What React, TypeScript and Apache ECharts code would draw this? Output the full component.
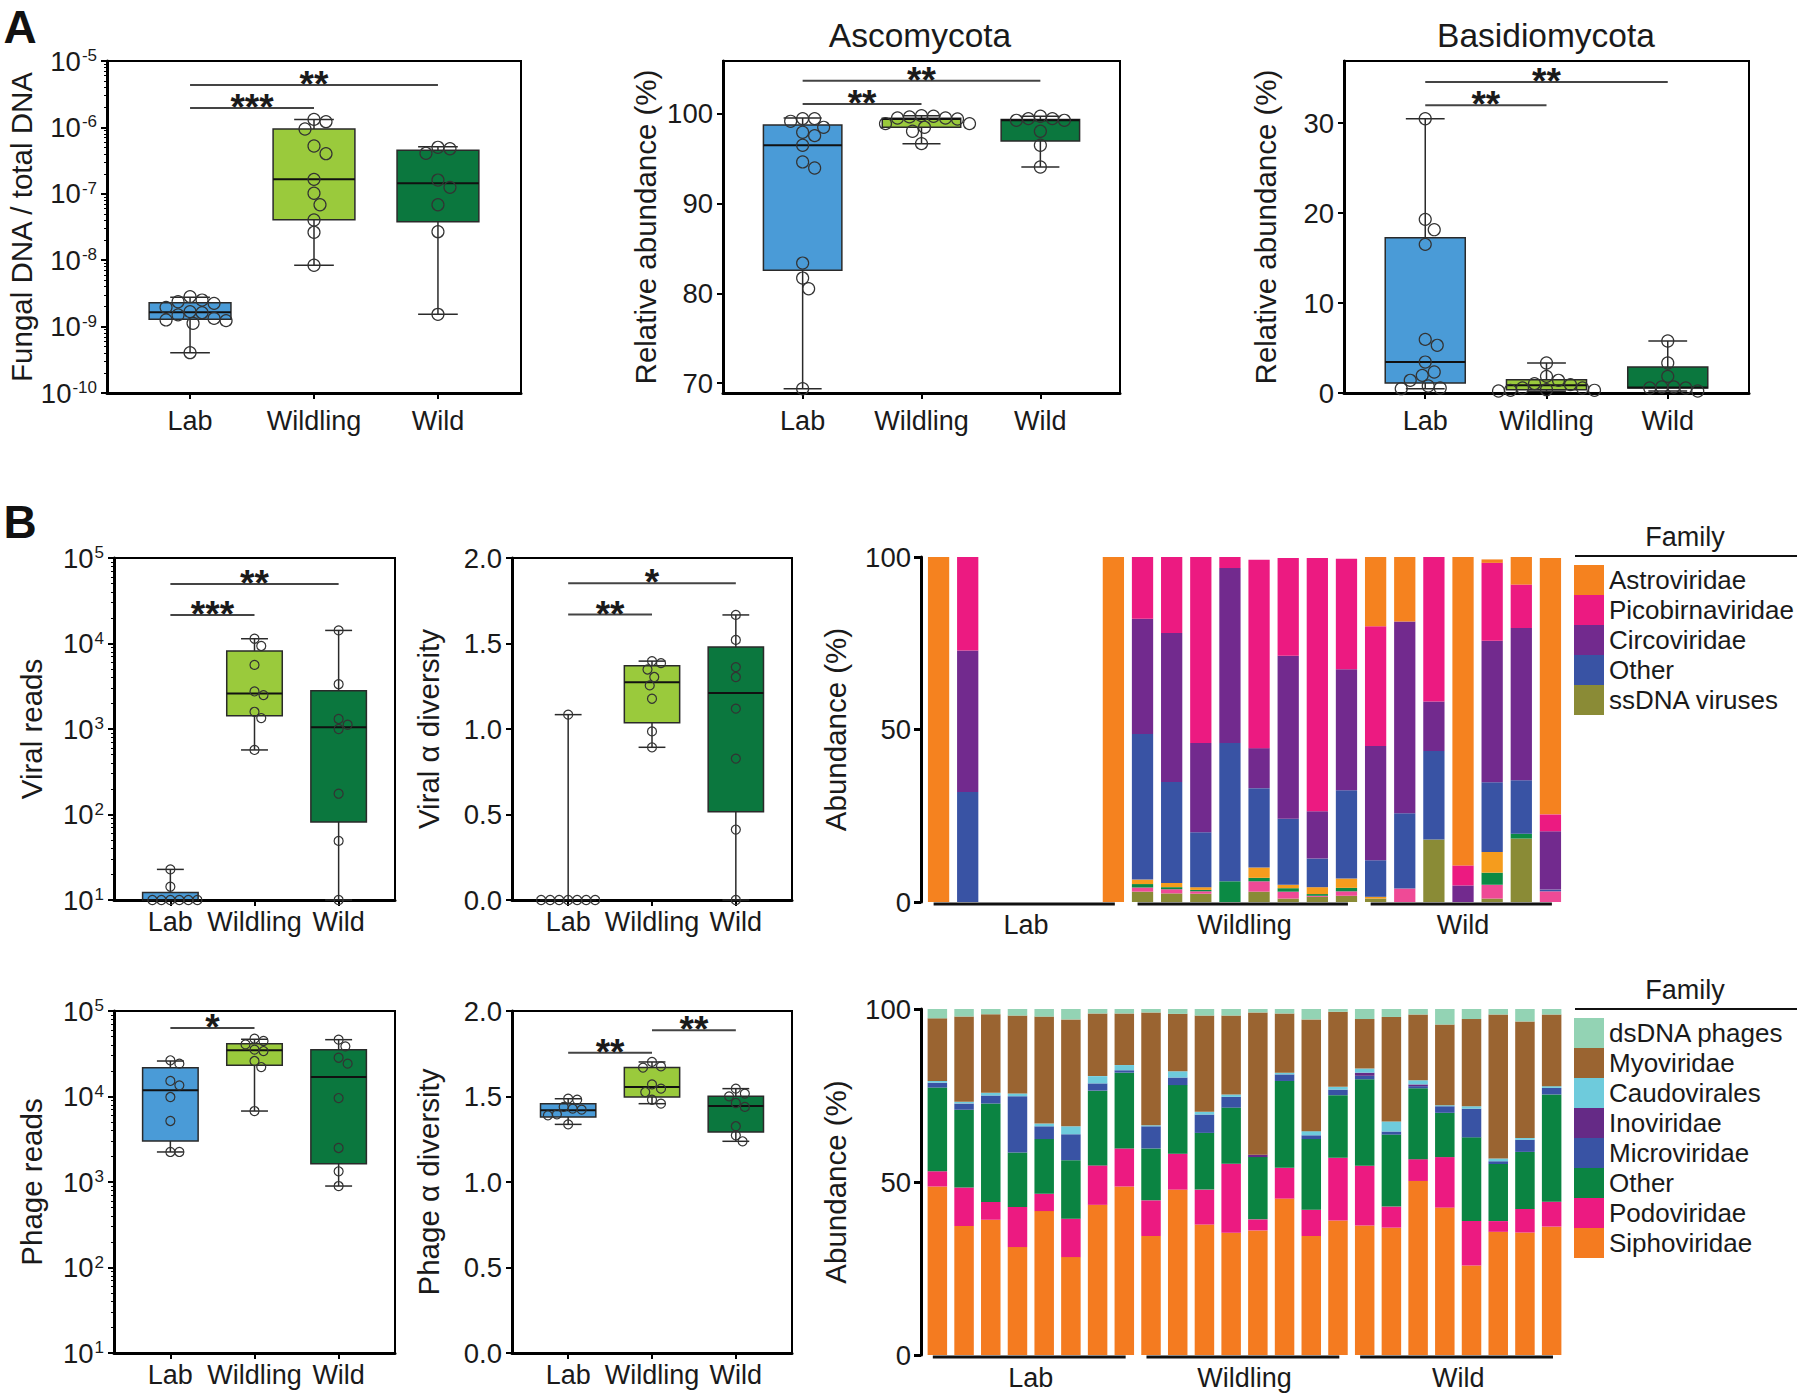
import React, { useEffect, useRef } from 'react';
import * as echarts from 'echarts';

const FONT = '"Liberation Sans", Arial, Helvetica, sans-serif';
const INK = '#1a1a1a';

// ---------- shared categories ----------
const GROUPS = ['Lab', 'Wildling', 'Wild'];
const GROUP_COLORS = ['#4a9bd7', '#9aca3c', '#0b773e'];

// ---------- Panel A: fungal DNA / total DNA (log) ----------
// box = [lower whisker, Q1, median, Q3, upper whisker]
const fungalBoxes = [
  [4.05e-10, 1.29e-9, 1.64e-9, 2.29e-9, 2.76e-9],
  [8.4e-9, 4.07e-8, 1.65e-7, 9.46e-7, 1.31e-6],
  [1.53e-9, 3.8e-8, 1.44e-7, 4.52e-7, 5.13e-7],
];
const fungalLab = [2.83e-9, 2.24e-9, 2.37e-9, 1.95e-9, 2.51e-9, 1.23e-9, 1.5e-9, 1.68e-9, 1.26e-9, 1.33e-9, 1.62e-9, 1.12e-9, 4.05e-10];
const fungalWildling = [1.32e-6, 1.22e-6, 9.46e-7, 5.25e-7, 4.02e-7, 1.65e-7, 1.02e-7, 6.85e-8, 4.03e-8, 2.63e-8, 8.4e-9];
const fungalWild = [4.07e-7, 5.01e-7, 4.77e-7, 1.25e-7, 1.61e-7, 6.85e-8, 2.69e-8, 1.53e-9];
const fungalBrackets: [number, number, number, string][] = [[0, 1, 1.96e-6, '***'], [0, 2, 4.36e-6, '**']];

// ---------- Panel A: Ascomycota ----------
const ascoTicks = [70, 80, 90, 100];
const ascoBoxes = [
  [69.37, 82.57, 96.5, 98.77, 99.55],
  [96.69, 98.51, 99.44, 99.52, 99.81],
  [94.09, 96.99, 99.3, 99.37, 99.74],
];
const ascoLab = [99.48, 99.48, 99.18, 98.51, 97.58, 97.96, 96.51, 94.65, 93.98, 83.38, 81.71, 80.52, 69.37];
const ascoWildling = [99.81, 99.67, 99.55, 99.55, 99.74, 98.92, 98.92, 98.07, 98.51, 96.69, 99.44];
const ascoWild = [99.29, 99.74, 99.48, 99.48, 99.29, 98.07, 96.51, 94.09];
const ascoBrackets: [number, number, number, string][] = [[0, 1, 101.1, '**'], [0, 2, 103.7, '**']];

// ---------- Panel A: Basidiomycota ----------
const basidioTicks = [0, 10, 20, 30];
const basidioBoxes = [
  [0.48, 1.11, 3.44, 17.26, 30.48],
  [0.2, 0.37, 0.85, 1.48, 3.33],
  [0.22, 0.56, 0.6, 2.89, 5.78],
];
const basidioLab = [30.48, 19.3, 18.15, 16.52, 5.96, 5.3, 3.44, 1.96, 2.33, 1.41, 0.48, 0.78, 0.56];
const basidioWildling = [3.33, 1.04, 1.85, 1.41, 0.93, 0.56, 0.56, 0.3, 0.22, 0.3, 0.37];
const basidioWild = [5.78, 3.33, 1.85, 0.56, 0.67, 0.56, 0.67, 0.22];
const basidioBrackets: [number, number, number, string][] = [[0, 1, 31.97, '**'], [0, 2, 34.56, '**']];

// ---------- Panel B: viral reads (log) ----------
const viralReadsBoxes = [
  [10, 10, 10, 12.2, 22.8],
  [569, 1429, 2606, 8180, 11370],
  [10, 81.8, 1045, 2800, 14220],
];
const viralReadsLab = [22.8, 14.3, 10, 10, 10, 10, 10, 10];
const viralReadsWildling = [11370, 9350, 5620, 2750, 2490, 1590, 1343, 569];
const viralReadsWild = [14220, 3340, 1310, 1122, 1000, 175, 49.1, 10];
const viralReadsBrackets: [number, number, number, string][] = [[0, 1, 21500, '***'], [0, 2, 49800, '**']];

// ---------- Panel B: viral alpha diversity ----------
const diversityTicks = [0, 0.5, 1, 1.5, 2];
const viralDivBoxes = [
  [0, 0, 0, 0, 1.084],
  [0.893, 1.037, 1.274, 1.37, 1.397],
  [0, 0.516, 1.21, 1.479, 1.667],
];
const viralDivLab = [1.084, 0, 0, 0, 0, 0, 0, 0];
const viralDivWildling = [1.385, 1.397, 1.348, 1.304, 1.255, 1.177, 0.986, 0.893];
const viralDivWild = [1.667, 1.521, 1.362, 1.304, 1.119, 0.827, 0.412, 0];
const viralDivBrackets: [number, number, number, string][] = [[0, 1, 1.669, '**'], [0, 2, 1.852, '*']];

// ---------- Panel B: phage reads (log) ----------
const phageReadsBoxes = [
  [2245, 3020, 11800, 21700, 26000],
  [6760, 23200, 34700, 41500, 46700],
  [897, 1637, 16900, 35300, 46200],
];
const phageReadsLab = [24200, 26500, 15200, 13500, 9860, 5170, 2245, 2245];
const phageReadsWildling = [47400, 40700, 44600, 34000, 35300, 26000, 22100, 6760];
const phageReadsWild = [46200, 38600, 28400, 24200, 9590, 2500, 1334, 897];
const phageReadsBrackets: [number, number, number, string][] = [[0, 1, 63200, '*']];

// ---------- Panel B: phage alpha diversity ----------
const phageDivBoxes = [
  [1.337, 1.38, 1.419, 1.458, 1.487],
  [1.458, 1.497, 1.556, 1.669, 1.702],
  [1.238, 1.292, 1.444, 1.501, 1.546],
];
const phageDivLab = [1.481, 1.487, 1.429, 1.423, 1.439, 1.39, 1.396, 1.337];
const phageDivWildling = [1.702, 1.669, 1.676, 1.571, 1.546, 1.526, 1.481, 1.458];
const phageDivWild = [1.546, 1.501, 1.462, 1.439, 1.326, 1.273, 1.238, 1.517];
const phageDivBrackets: [number, number, number, string][] = [[0, 1, 1.756, '**'], [1, 2, 1.887, '**']];

// ---------- Viral family composition (22 samples) ----------
const abundanceTicks = [0, 50, 100];
const viralSamples = ['L1', 'L2', 'L3', 'L4', 'L5', 'L6', 'L7', 'WL1', 'WL2', 'WL3', 'WL4', 'WL5', 'WL6', 'WL7', 'WL8', 'W1', 'W2', 'W3', 'W4', 'W5', 'W6', 'W7'];
const viralGroups: [number, number, string][] = [[0, 6, 'Lab'], [7, 14, 'Wildling'], [15, 21, 'Wild']];
const viralSsDNA = [0, 0, 0, 0, 0, 0, 0, 3, 2.5, 2.4, 0, 3, 1, 1.5, 1.8, 1, 0, 18.1, 0, 1, 18.4, 0];
const viralMinorPink = [0, 0, 0, 0, 0, 0, 0, 1.2, 1.2, 0.7, 0, 3, 2, 0.3, 1.3, 0, 3.9, 0, 0, 4, 0, 3.1];
const viralMinorGreen = [0, 0, 0, 0, 0, 0, 0, 1, 0.6, 0.4, 6, 1, 1, 0.5, 1, 0, 0, 0, 0, 3.5, 1.4, 0];
const viralMinorOrange = [0, 0, 0, 0, 0, 0, 0, 1.3, 1.2, 0.8, 0, 3, 1, 2, 2.7, 0.5, 0, 0, 0, 6, 0, 0];
const viralOther = [0, 31.9, 0, 0, 0, 0, 0, 42.2, 29.3, 15.9, 40.1, 23, 19.1, 8.3, 25.6, 10.6, 21.8, 25.7, 0, 20.2, 15.5, 0.5];
const viralCirco = [0, 41, 0, 0, 0, 0, 0, 33.4, 43.2, 25.9, 50.7, 11.6, 47.3, 13.7, 35.1, 33.1, 55.6, 14.3, 4.8, 41, 44.1, 16.9];
const viralPico = [0, 27.1, 0, 0, 0, 0, 0, 17.9, 22, 53.9, 3.2, 54.6, 28.3, 73.4, 32, 34.7, 0, 41.9, 5.8, 22.6, 12.6, 4.9];
const viralAstro = [100, 0, 0, 0, 0, 0, 100, 0, 0, 0, 0, 0, 0, 0, 0, 20.1, 18.7, 0, 89.4, 1, 8, 74.3];
const viralLegend = ['Astroviridae', 'Picobirnaviridae', 'Circoviridae', 'Other', 'ssDNA viruses'];

// ---------- Phage family composition (24 samples) ----------
const phageSamples = ['L1', 'L2', 'L3', 'L4', 'L5', 'L6', 'L7', 'L8', 'WL1', 'WL2', 'WL3', 'WL4', 'WL5', 'WL6', 'WL7', 'WL8', 'W1', 'W2', 'W3', 'W4', 'W5', 'W6', 'W7', 'W8'];
const phageGroups: [number, number, string][] = [[0, 7, 'Lab'], [8, 15, 'Wildling'], [16, 23, 'Wild']];
const phageSipho = [48.7, 37.3, 39.1, 31.2, 41.6, 28.3, 43.4, 48.7, 34.4, 47.8, 37.7, 35.3, 36, 45.2, 34.4, 38.9, 37.4, 36.8, 50.3, 42.6, 25.9, 35.6, 35.4, 37.1];
const phagePodo = [4.4, 11.1, 5.1, 11.6, 5, 11.1, 11.4, 11, 10.3, 10.4, 10.1, 20, 3.2, 8.9, 7.6, 18.1, 17.3, 6.1, 6.3, 14.6, 12.8, 3.1, 6.8, 7.2];
const phageOther = [24.2, 22.5, 28.5, 15.7, 15.8, 16.9, 21.6, 21.9, 15, 19.8, 16.4, 16.2, 18, 25.1, 20.4, 18.1, 25, 20.8, 20.5, 12.8, 24.2, 16.5, 16.5, 31];
const phageMicro = [1.4, 1.7, 2.3, 16.3, 3.7, 7.5, 2.1, 0.7, 6.4, 2.2, 5.3, 3.1, 0, 1.9, 1.1, 1.6, 1, 0.9, 0.6, 1.9, 8.3, 0.8, 3.5, 1.9];
const phageIno = [0, 0.1, 0, 0, 0, 0, 0, 0, 0, 0, 0, 0, 0.7, 0, 0, 0, 0.9, 0, 0.5, 0, 0, 0, 0, 0];
const phageCaudo = [0.5, 0.5, 0.8, 0.8, 0.8, 2.3, 2.1, 1.5, 0.3, 1.8, 0.8, 0.7, 0, 0.5, 1.2, 0.8, 1.2, 2.9, 1.2, 0.3, 0.7, 0.8, 0.5, 0.5];
const phageMyo = [18.1, 24.6, 22.7, 22.5, 30.9, 30.9, 18.1, 14.9, 32.6, 16.6, 27.8, 22.8, 41.1, 17.1, 32.3, 21.7, 14.3, 30.2, 19, 23.3, 25.2, 41.6, 33.7, 20.7];
const phageDs = [2.7, 2.2, 1.5, 1.9, 2.2, 3, 1.3, 1.3, 1, 1.4, 1.9, 1.9, 1, 1.3, 3, 0.8, 2.9, 2.3, 1.6, 4.5, 2.9, 1.6, 3.6, 1.6];
const phageLegend = ['dsDNA phages', 'Myoviridae', 'Caudovirales', 'Inoviridae', 'Microviridae', 'Other phages', 'Podoviridae', 'Siphoviridae'];

// ---------- helpers ----------
function swarm(ys: number[], r: number): number[] {
  const order = ys.map((_, i) => i).sort((a, b) => ys[a] - ys[b]);
  const placed: { x: number; y: number }[] = [];
  const xs = new Array(ys.length).fill(0);
  const d = 2 * r;
  const step = r * 0.5;
  for (const i of order) {
    const y = ys[i];
    let chosen = 0;
    for (let k = 0; k < 400; k++) {
      const off = k === 0 ? 0 : (k % 2 ? 1 : -1) * Math.ceil(k / 2) * step;
      if (placed.every((p) => (p.x - off) ** 2 + (p.y - y) ** 2 >= d * d - 0.01)) {
        chosen = off;
        break;
      }
    }
    xs[i] = chosen;
    placed.push({ x: chosen, y });
  }
  return xs;
}

function seg(x1: number, y1: number, x2: number, y2: number, w = 1.5, c = '#2a2a2a') {
  return { type: 'line', shape: { x1, y1, x2, y2 }, style: { stroke: c, lineWidth: w } };
}

function boxSeries(idx: number, boxes: number[][], points: number[][], r: number) {
  return {
    type: 'custom',
    xAxisIndex: idx,
    yAxisIndex: idx,
    clip: false,
    silent: true,
    z: 3,
    data: boxes.map((b, i) => [i, b[0], b[1], b[2], b[3], b[4]]),
    encode: { x: 0, y: [1, 2, 3, 4, 5] },
    renderItem: (params: any, api: any) => {
      const i = api.value(0);
      const lo = api.coord([i, api.value(1)]);
      const q1 = api.coord([i, api.value(2)]);
      const md = api.coord([i, api.value(3)]);
      const q3 = api.coord([i, api.value(4)]);
      const hi = api.coord([i, api.value(5)]);
      const unit = api.coord([i + 1, api.value(3)])[0] - md[0];
      const cx = md[0];
      const bw = unit * 0.33;
      const cw = unit * 0.16;
      const children: any[] = [
        seg(cx, hi[1], cx, q3[1]),
        seg(cx, q1[1], cx, lo[1]),
        seg(cx - cw, hi[1], cx + cw, hi[1]),
        seg(cx - cw, lo[1], cx + cw, lo[1]),
        {
          type: 'rect',
          shape: { x: cx - bw, y: q3[1], width: 2 * bw, height: Math.max(0, q1[1] - q3[1]) },
          style: { fill: GROUP_COLORS[i], stroke: '#2a2a2a', lineWidth: 1.5 },
        },
        seg(cx - bw, md[1], cx + bw, md[1], 2, '#111'),
      ];
      const pts = points[i];
      const ys = pts.map((v) => api.coord([i, v])[1]);
      const xs = swarm(ys, r);
      pts.forEach((_, k) => {
        children.push({
          type: 'circle',
          shape: { cx: cx + xs[k], cy: ys[k], r },
          style: { fill: 'none', stroke: '#333', lineWidth: 1.2 },
        });
      });
      return { type: 'group', children };
    },
  };
}

function bracketSeries(idx: number, brackets: [number, number, number, string][]) {
  return {
    type: 'custom',
    xAxisIndex: idx,
    yAxisIndex: idx,
    clip: false,
    silent: true,
    z: 4,
    data: brackets.map((b) => [b[0], b[1], b[2]]),
    encode: { x: [0, 1], y: 2 },
    renderItem: (params: any, api: any) => {
      const a = api.coord([api.value(0), api.value(2)]);
      const b = api.coord([api.value(1), api.value(2)]);
      return {
        type: 'group',
        children: [
          seg(a[0], a[1], b[0], b[1], 2, '#444'),
          {
            type: 'text',
            x: (a[0] + b[0]) / 2,
            y: a[1] - 0.5,
            style: {
              text: brackets[params.dataIndex][3],
              fontSize: 37,
              fontWeight: 'bold',
              fontFamily: FONT,
              fill: INK,
              align: 'center',
              verticalAlign: 'middle',
            },
          },
        ],
      };
    },
  };
}

function groupSeries(idx: number, groups: [number, number, string][]) {
  return {
    type: 'custom',
    xAxisIndex: idx,
    yAxisIndex: idx,
    clip: false,
    silent: true,
    z: 4,
    data: groups.map((g) => [g[0], g[1], 0]),
    encode: { x: [0, 1], y: 2 },
    renderItem: (params: any, api: any) => {
      const s = api.value(0);
      const e = api.value(1);
      const a = api.coord([s, 0]);
      const b = api.coord([e, 0]);
      const band = (b[0] - a[0]) / (e - s);
      const y = a[1] + 2;
      return {
        type: 'group',
        children: [
          seg(a[0] - band * 0.17, y, b[0] + band * 0.05, y, 3, '#111'),
          {
            type: 'text',
            x: (a[0] + b[0]) / 2,
            y: y + 21,
            style: {
              text: groups[params.dataIndex][2],
              fontSize: 27,
              fontFamily: FONT,
              fill: INK,
              align: 'center',
              verticalAlign: 'middle',
            },
          },
        ],
      };
    },
  };
}

const supRich = { sup: { fontSize: 17, fontFamily: FONT, color: INK, verticalAlign: 'top', padding: [0, 0, 0, 1] } };
const logLabel = (v: number) => '10{sup|' + Math.round(Math.log10(v)) + '}';
const axisLine = { show: true, onZero: false, lineStyle: { color: '#000', width: 3 } };
const nameStyle = { fontSize: 29.5, fontFamily: FONT, color: INK };

function boxXAxis(grid: number, margin: number) {
  return {
    type: 'value',
    gridIndex: grid,
    min: -0.67,
    max: 2.67,
    axisLine,
    axisTick: { show: true, customValues: [0, 1, 2], length: 6, lineStyle: { color: '#000', width: 2 } },
    axisLabel: {
      show: true,
      customValues: [0, 1, 2],
      formatter: (v: number) => GROUPS[Math.round(v)] ?? '',
      fontSize: 27,
      fontFamily: FONT,
      color: INK,
      margin,
    },
    splitLine: { show: false },
  };
}

function logYAxis(grid: number, min: number, max: number, name: string, nameGap: number) {
  return {
    type: 'log',
    logBase: 10,
    gridIndex: grid,
    min,
    max,
    name,
    nameLocation: 'middle',
    nameGap,
    nameTextStyle: nameStyle,
    axisLine,
    axisTick: { show: true, length: 6, lineStyle: { color: '#000', width: 2 } },
    minorTick: { show: true, splitNumber: 9, length: 3, lineStyle: { color: '#000', width: 1 } },
    axisLabel: { formatter: logLabel, fontSize: 27.5, fontFamily: FONT, color: INK, margin: 10, rich: supRich },
    splitLine: { show: false },
    minorSplitLine: { show: false },
  };
}

function valYAxis(grid: number, min: number, max: number, ticks: number[], name: string, nameGap: number, fmt: (v: number) => string, offset = 0, tickLen = 6, tickW = 2) {
  return {
    type: 'value',
    gridIndex: grid,
    min,
    max,
    offset,
    name,
    nameLocation: 'middle',
    nameGap,
    nameTextStyle: nameStyle,
    axisLine,
    axisTick: { show: true, customValues: ticks, length: tickLen, lineStyle: { color: '#000', width: tickW } },
    axisLabel: { customValues: ticks, formatter: fmt, fontSize: 27.5, fontFamily: FONT, color: INK, margin: 10 },
    splitLine: { show: false },
  };
}

const hiddenCatAxis = (grid: number, data: string[]) => ({
  type: 'category',
  gridIndex: grid,
  data,
  axisLine: { show: false },
  axisTick: { show: false },
  axisLabel: { show: false },
  splitLine: { show: false },
});

function buildOption() {
  const boxGrid = { show: true, borderColor: '#000', borderWidth: 2, outerBoundsMode: 'none' };
  const grids = [
    { left: 107, top: 61, width: 414, height: 332, ...boxGrid },
    { left: 723, top: 61, width: 397, height: 332, ...boxGrid },
    { left: 1344, top: 61, width: 405, height: 332, ...boxGrid },
    { left: 114, top: 558, width: 281, height: 342, ...boxGrid },
    { left: 512, top: 558, width: 280, height: 342, ...boxGrid },
    { left: 114, top: 1011, width: 281, height: 342, ...boxGrid },
    { left: 512, top: 1011, width: 280, height: 342, ...boxGrid },
    { left: 924, top: 557, width: 641, height: 345, show: false, outerBoundsMode: 'none' },
    { left: 924, top: 1009, width: 641, height: 346, show: false, outerBoundsMode: 'none' },
  ];

  const fixed1 = (v: number) => v.toFixed(1);
  const plain = (v: number) => String(v);

  const xAxis = [
    boxXAxis(0, 14),
    boxXAxis(1, 14),
    boxXAxis(2, 14),
    boxXAxis(3, 8),
    boxXAxis(4, 8),
    boxXAxis(5, 8),
    boxXAxis(6, 8),
    hiddenCatAxis(7, viralSamples),
    hiddenCatAxis(8, phageSamples),
  ];
  const yAxis = [
    logYAxis(0, 1e-10, 1e-5, 'Fungal DNA / total DNA', 64),
    valYAxis(1, 68.9, 105.9, ascoTicks, 'Relative abundance (%)', 63, plain),
    valYAxis(2, 0, 36.9, basidioTicks, 'Relative abundance (%)', 64, plain),
    logYAxis(3, 10, 1e5, 'Viral reads', 68),
    valYAxis(4, 0, 2, diversityTicks, 'Viral α diversity', 69, fixed1),
    logYAxis(5, 10, 1e5, 'Phage reads', 68),
    valYAxis(6, 0, 2, diversityTicks, 'Phage α diversity', 69, fixed1),
    valYAxis(7, 0, 100, abundanceTicks, 'Abundance (%)', 71, plain, 3, 7, 3),
    valYAxis(8, 0, 100, abundanceTicks, 'Abundance (%)', 71, plain, 3, 7, 3),
  ];

  const viralFamilies = [
    { name: 'ssDNA viruses', data: viralSsDNA, color: '#8a8b36' },
    { name: 'minor family 1', data: viralMinorPink, color: '#ef4a96' },
    { name: 'minor family 2', data: viralMinorGreen, color: '#0b8a44' },
    { name: 'minor family 3', data: viralMinorOrange, color: '#f59c1d' },
    { name: 'Other', data: viralOther, color: '#3953a4' },
    { name: 'Circoviridae', data: viralCirco, color: '#722a8e' },
    { name: 'Picobirnaviridae', data: viralPico, color: '#ec1a81' },
    { name: 'Astroviridae', data: viralAstro, color: '#f5821f' },
  ];
  const phageFamilies = [
    { name: 'Siphoviridae', data: phageSipho, color: '#f47b20' },
    { name: 'Podoviridae', data: phagePodo, color: '#ec1a81' },
    { name: 'Other phages', data: phageOther, color: '#0b8442' },
    { name: 'Microviridae', data: phageMicro, color: '#3953a4' },
    { name: 'Inoviridae', data: phageIno, color: '#652a86' },
    { name: 'Caudovirales', data: phageCaudo, color: '#6ecbdc' },
    { name: 'Myoviridae', data: phageMyo, color: '#9a6431' },
    { name: 'dsDNA phages', data: phageDs, color: '#93d3b4' },
  ];

  const barSeries = (fams: any[], idx: number, stack: string) =>
    fams.map((f) => ({
      type: 'bar',
      name: f.name,
      xAxisIndex: idx,
      yAxisIndex: idx,
      stack,
      barWidth: '73%',
      data: f.data,
      silent: true,
      itemStyle: { color: f.color },
    }));

  const series: any[] = [
    boxSeries(0, fungalBoxes, [fungalLab, fungalWildling, fungalWild], 6),
    bracketSeries(0, fungalBrackets),
    boxSeries(1, ascoBoxes, [ascoLab, ascoWildling, ascoWild], 6),
    bracketSeries(1, ascoBrackets),
    boxSeries(2, basidioBoxes, [basidioLab, basidioWildling, basidioWild], 6),
    bracketSeries(2, basidioBrackets),
    boxSeries(3, viralReadsBoxes, [viralReadsLab, viralReadsWildling, viralReadsWild], 4.5),
    bracketSeries(3, viralReadsBrackets),
    boxSeries(4, viralDivBoxes, [viralDivLab, viralDivWildling, viralDivWild], 4.5),
    bracketSeries(4, viralDivBrackets),
    boxSeries(5, phageReadsBoxes, [phageReadsLab, phageReadsWildling, phageReadsWild], 4.5),
    bracketSeries(5, phageReadsBrackets),
    boxSeries(6, phageDivBoxes, [phageDivLab, phageDivWildling, phageDivWild], 4.5),
    bracketSeries(6, phageDivBrackets),
    ...barSeries(viralFamilies, 7, 'viral'),
    groupSeries(7, viralGroups),
    ...barSeries(phageFamilies, 8, 'phage'),
    groupSeries(8, phageGroups),
  ];

  const legendBase = {
    orient: 'vertical',
    left: 1574,
    itemWidth: 30,
    itemHeight: 30,
    itemGap: 0,
    icon: 'rect',
    selectedMode: false,
    padding: 0,
    textStyle: { fontSize: 26, fontFamily: FONT, color: INK },
    formatter: (n: string) => (n === 'Other phages' ? 'Other' : n),
  };

  const txt = (text: string, x: number, y: number, fontSize: number, extra: any = {}) => ({
    type: 'text',
    x,
    y,
    silent: true,
    style: {
      text,
      fontSize,
      fontFamily: FONT,
      fill: INK,
      align: 'center',
      textAlign: 'center',
      verticalAlign: 'middle',
      textVerticalAlign: 'middle',
      ...extra,
    },
  });

  return {
    animation: false,
    backgroundColor: '#ffffff',
    textStyle: { fontFamily: FONT },
    grid: grids,
    xAxis,
    yAxis,
    series,
    legend: [
      { ...legendBase, top: 565, data: viralLegend },
      { ...legendBase, top: 1018, data: phageLegend },
    ],
    graphic: [
      txt('A', 20, 27, 46, { fontWeight: 'bold', fill: '#111' }),
      txt('B', 20, 522, 46, { fontWeight: 'bold', fill: '#111' }),
      txt('Ascomycota', 920, 35, 33.5),
      txt('Basidiomycota', 1546, 35, 33.5),
      txt('Family', 1685, 537, 27),
      txt('Family', 1685, 990, 27),
      { type: 'line', silent: true, shape: { x1: 1575, y1: 556, x2: 1797, y2: 556 }, style: { stroke: '#111', lineWidth: 2 } },
      { type: 'line', silent: true, shape: { x1: 1575, y1: 1009, x2: 1797, y2: 1009 }, style: { stroke: '#111', lineWidth: 2 } },
    ],
  };
}

export default function App() {
  const ref = useRef<HTMLDivElement>(null);
  useEffect(() => {
    document.body.style.margin = '0';
    const chart = echarts.init(ref.current as HTMLDivElement, null, { renderer: 'svg' });
    chart.setOption(buildOption() as any);
    return () => chart.dispose();
  }, []);
  return (
    <div
      ref={ref}
      style={{ position: 'absolute', left: 0, top: 0, width: 1800, height: 1393, background: '#fff' }}
    />
  );
}
